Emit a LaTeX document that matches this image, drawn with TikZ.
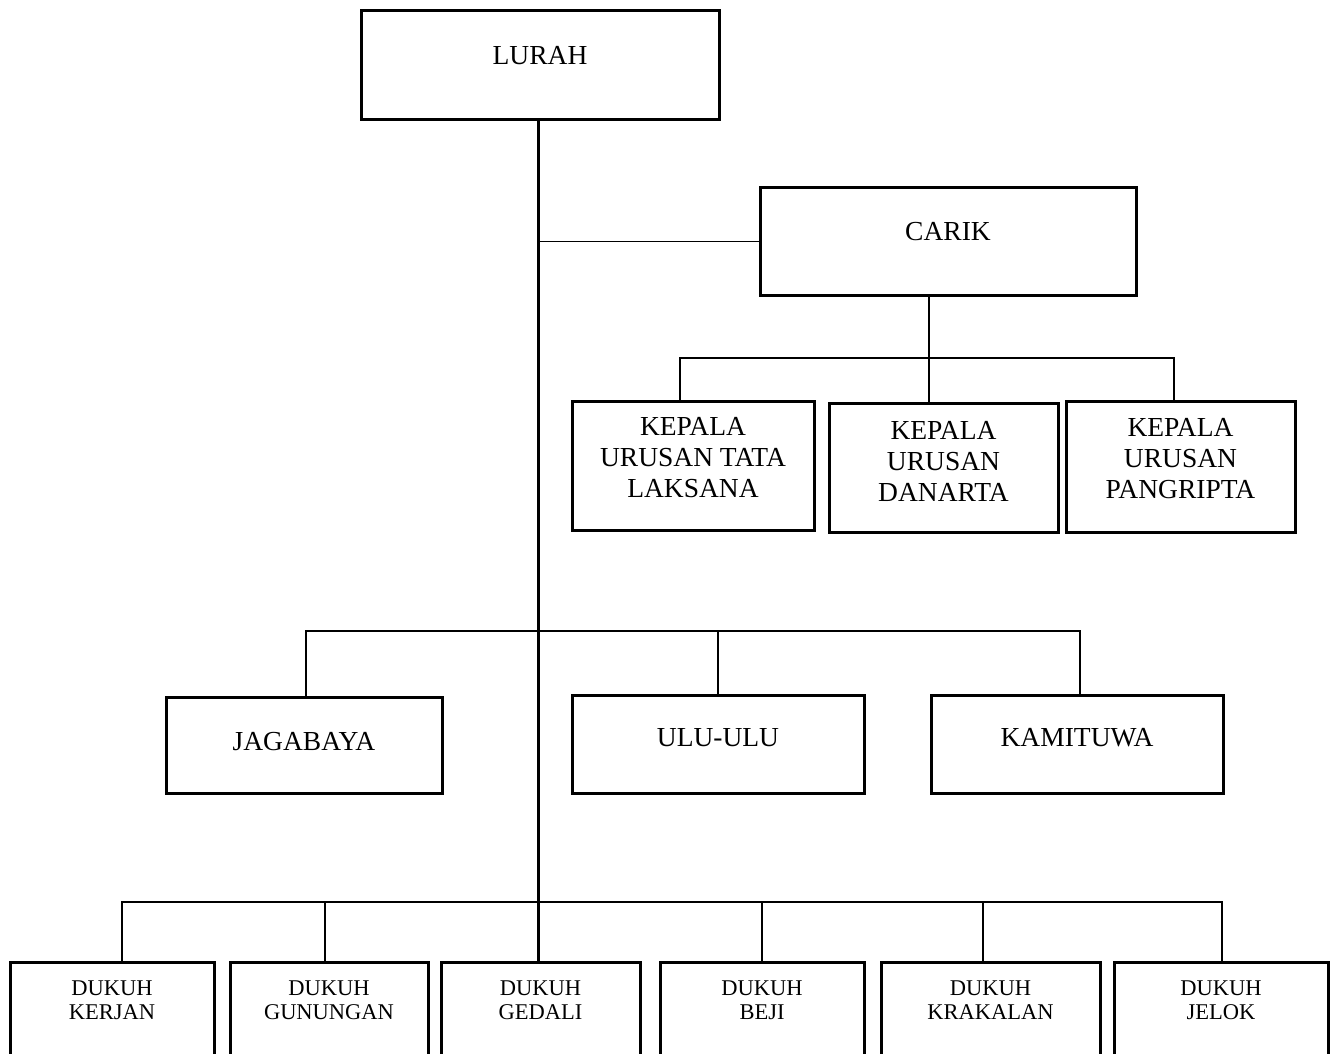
\documentclass[tikz,border=0pt]{standalone}
\usepackage{fontspec}
\setmainfont{Liberation Serif}
\begin{document}
\begin{tikzpicture}[x=1pt,y=-1pt,
  box/.style={draw,line width=3pt,rectangle,inner sep=0pt,minimum width=#1},
  lbl/.style={inner sep=0pt,align=center,font=\fontsize{27.5}{31}\selectfont},
  sml/.style={inner sep=0pt,align=center,font=\fontsize{22.5}{24}\selectfont},
  trunk/.style={line width=3pt},
  conn/.style={line width=1.2pt},
  bus/.style={line width=1.6pt}]
\useasboundingbox (0,0) rectangle (1334,1054);
\clip (0,0) rectangle (1334,1054);
\fill[white] (0,0) rectangle (1334,1054);
% boxes
\node[box=358pt,minimum height=109pt] (lurah) at (540,65.5) {};
\node[box=376pt,minimum height=107pt] (carik) at (948,241.5) {};
\node[box=242pt,minimum height=129pt] (k1) at (693,465.5) {};
\node[box=229pt,minimum height=129pt] (k2) at (943.5,467.5) {};
\node[box=229pt,minimum height=131pt] (k3) at (1180.5,466.5) {};
\node[box=276pt,minimum height=96pt] (jag) at (304,745) {};
\node[box=292pt,minimum height=98pt] (ulu) at (718,744) {};
\node[box=292pt,minimum height=98pt] (kam) at (1077,744) {};
\node[box=204pt,minimum height=118pt] (d1) at (112,1021) {};
\node[box=198pt,minimum height=118pt] (d2) at (329,1021) {};
\node[box=199pt,minimum height=118pt] (d3) at (540.5,1021) {};
\node[box=204pt,minimum height=118pt] (d4) at (762,1021) {};
\node[box=219pt,minimum height=118pt] (d5) at (990.5,1021) {};
\node[box=214pt,minimum height=118pt] (d6) at (1221,1021) {};
% texts
\node[lbl] (tlurah) at (540,55.5) {LURAH};
\node[lbl] (tcarik) at (948,232) {CARIK};
\node[lbl] (tk1) at (693,458) {KEPALA\\URUSAN TATA\\LAKSANA};
\node[lbl] (tk2) at (943.5,461) {KEPALA\\URUSAN\\DANARTA};
\node[lbl] (tk3) at (1180.5,459) {KEPALA\\URUSAN\\PANGRIPTA};
\node[lbl] (tjag) at (304,742) {JAGABAYA};
\node[lbl] (tulu) at (718,738) {ULU-ULU};
\node[lbl] (tkam) at (1077,738) {KAMITUWA};
\node[sml] (td1) at (112,1000) {DUKUH\\KERJAN};
\node[sml] (td2) at (329,1000) {DUKUH\\GUNUNGAN};
\node[sml] (td3) at (540.5,1000) {DUKUH\\GEDALI};
\node[sml] (td4) at (762,1000) {DUKUH\\BEJI};
\node[sml] (td5) at (990.5,1000) {DUKUH\\KRAKALAN};
\node[sml] (td6) at (1221,1000) {DUKUH\\JELOK};
% connector coordinates
\coordinate (cb) at (929,358);
\coordinate (b1) at (680,358);
\coordinate (b3) at (1174,358);
\coordinate (m1) at (306,631);
\coordinate (m3) at (1080,631);
\coordinate (n1) at (122,902);
\coordinate (n2) at (325,902);
\coordinate (n4) at (762,902);
\coordinate (n5) at (983,902);
\coordinate (n6) at (1222,902);
\coordinate (tr) at (538,120);
% trunk
\draw[trunk] (tr) -- (tr |- d3.north);
\draw[conn] (carik.west) -- (carik.west -| tr);
% carik subtree
\draw[conn] (carik.south -| cb) -- (cb);
\draw[conn] (b1 |- k1.north) -- (b1) -- (b3) -- (b3 |- k3.north);
\draw[conn] (cb) -- (cb |- k2.north);
% middle bus
\draw[conn] (jag.north -| m1) -- (m1) -- (m3) -- (kam.north -| m3);
\draw[conn] (ulu.north) -- (ulu.north |- m1);
% bottom bus
\draw[bus] (d1.north -| n1) -- (n1) -- (n6) -- (d6.north -| n6);
\draw[bus] (d2.north -| n2) -- (n2);
\draw[bus] (d4.north -| n4) -- (n4);
\draw[bus] (d5.north -| n5) -- (n5);
\end{tikzpicture}
\end{document}
